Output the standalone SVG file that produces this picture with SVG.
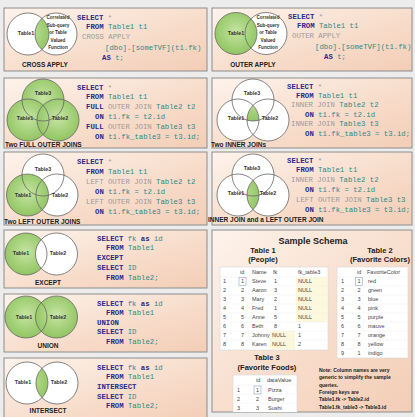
<svg xmlns="http://www.w3.org/2000/svg" width="415" height="417" viewBox="0 0 415 417">
<defs>
<linearGradient id="pg" x1="0" y1="0" x2="1" y2="1">
<stop offset="0" stop-color="#fdf3ec"/>
<stop offset="0.5" stop-color="#f8dfce"/>
<stop offset="1" stop-color="#f3cdb6"/>
</linearGradient>
<radialGradient id="gr" cx="0.5" cy="0.45" r="0.6">
<stop offset="0" stop-color="#c6e4a2"/>
<stop offset="1" stop-color="#8cc25c"/>
</radialGradient>
<clipPath id="c1B"><circle cx="56" cy="34" r="21"/></clipPath>
<clipPath id="c4L"><circle cx="238" cy="120" r="21"/></clipPath>
<clipPath id="c4R"><circle cx="268" cy="120" r="21"/></clipPath>
<clipPath id="c6R"><circle cx="268" cy="195" r="21"/></clipPath>
<clipPath id="c9R"><circle cx="57" cy="383" r="21"/></clipPath>
<clipPath id="sch"><rect x="212" y="230" width="200" height="182"/></clipPath>
</defs>
<style>
.panel{fill:url(#pg);stroke:#8c8c8c;stroke-width:1}
.c{fill:none;stroke:#666;stroke-width:.8}
.w{fill:#fff}
.gf{fill:url(#gr)}
.lbl{font-family:"Liberation Sans",Arial,sans-serif;font-weight:bold;font-size:6.5px;fill:#222}
.mid{text-anchor:middle}
.tl{font-family:"Liberation Sans",Arial,sans-serif;font-weight:bold;font-size:5.3px;fill:#333;text-anchor:middle}
.fn{font-family:"Liberation Sans",Arial,sans-serif;font-weight:bold;font-size:4.6px;fill:#333;text-anchor:middle}
.code{font-family:"Liberation Mono","DejaVu Sans Mono",monospace;font-size:7.3px;fill:#2e8b8b}
.kw{fill:#2a2a8c;font-weight:bold}
.op{fill:#9a9a9a}
.hd{font-family:"Liberation Sans",Arial,sans-serif;font-weight:bold;fill:#222;text-anchor:middle}
.grid{fill:#fff;stroke:#d6d6d6;stroke-width:.6}
.rl{stroke:#ececec;stroke-width:.5}
.cell{font-family:"Liberation Sans",Arial,sans-serif;font-size:5.5px;fill:#444}
.ny{fill:#fbf8dc}
.sel{fill:none;stroke:#8aa6cc;stroke-width:.6}
.note{font-family:"Liberation Sans",Arial,sans-serif;font-weight:bold;font-size:5px;fill:#222}
</style>
<rect x="0" y="0" width="415" height="417" fill="#ececec"/>

<g id="cross-apply">
<rect class="panel" x="4" y="8" width="203" height="63"/>
<circle class="w" cx="28" cy="34" r="21"/>
<circle class="w" cx="56" cy="34" r="21"/>
<circle class="gf" cx="28" cy="34" r="21" clip-path="url(#c1B)"/>
<circle class="c" cx="28" cy="34" r="21"/>
<circle class="c" cx="56" cy="34" r="21"/>
<text class="tl" x="26" y="35">Table1</text>
<text class="fn" x="58" y="19">Correlated</text>
<text class="fn" x="58" y="26.5">Sub-query</text>
<text class="fn" x="58" y="34">or Table</text>
<text class="fn" x="58" y="41.5">Valued</text>
<text class="fn" x="58" y="49">Function</text>
<text class="lbl mid" x="45" y="67">CROSS APPLY</text>
<text class="code"><tspan x="77" y="19.5" class="kw">SELECT</tspan><tspan class="op"> *</tspan>
<tspan x="86" y="29" class="kw">FROM</tspan><tspan> Table1 t1</tspan>
<tspan x="82" y="38.5" class="op">CROSS APPLY</tspan>
<tspan x="105" y="49.5">[dbo].[someTVF](t1.fk)</tspan>
<tspan x="102" y="59.5" class="kw">AS</tspan><tspan> t;</tspan></text>
</g>

<g id="outer-apply">
<rect class="panel" x="212" y="8" width="200" height="63"/>
<circle class="w" cx="266" cy="33.5" r="21"/>
<circle class="gf" cx="236" cy="33.5" r="21"/>
<circle class="c" cx="236" cy="33.5" r="21"/>
<circle class="c" cx="266" cy="33.5" r="21"/>
<text class="tl" x="236" y="35">Table1</text>
<text class="fn" x="268" y="19">Correlated</text>
<text class="fn" x="268" y="26.5">Sub-query</text>
<text class="fn" x="268" y="34">or Table</text>
<text class="fn" x="268" y="41.5">Valued</text>
<text class="fn" x="268" y="49">Function</text>
<text class="lbl mid" x="253" y="67">OUTER APPLY</text>
<text class="code"><tspan x="288" y="18.5" class="kw">SELECT</tspan><tspan class="op"> *</tspan>
<tspan x="297" y="28" class="kw">FROM</tspan><tspan> Table1 t1</tspan>
<tspan x="292" y="37.5" class="op">OUTER APPLY</tspan>
<tspan x="315" y="48.5">[dbo].[someTVF](t1.fk)</tspan>
<tspan x="324" y="58.5" class="kw">AS</tspan><tspan> t;</tspan></text>
</g>

<g id="two-full-outer-joins">
<rect class="panel" x="4" y="78" width="203" height="70"/>
<circle class="gf" cx="43" cy="100" r="21"/>
<circle class="gf" cx="28" cy="120" r="21"/>
<circle class="gf" cx="58" cy="120" r="21"/>
<circle class="c" cx="43" cy="100" r="21"/>
<circle class="c" cx="28" cy="120" r="21"/>
<circle class="c" cx="58" cy="120" r="21"/>
<text class="tl" x="43" y="95">Table3</text>
<text class="tl" x="25" y="120">Table1</text>
<text class="tl" x="60" y="120">Table2</text>
<text class="lbl" x="5" y="147">Two FULL OUTER JOINS</text>
<text class="code"><tspan x="77" y="89.5" class="kw">SELECT</tspan><tspan class="op"> *</tspan>
<tspan x="86" y="99.3" class="kw">FROM</tspan><tspan> Table1 t1</tspan>
<tspan x="86" y="109.1" class="kw">FULL</tspan><tspan class="op"> OUTER JOIN</tspan><tspan> Table2 t2</tspan>
<tspan x="95" y="118.9" class="kw">ON</tspan><tspan> t1.fk = t2.id</tspan>
<tspan x="86" y="128.7" class="kw">FULL</tspan><tspan class="op"> OUTER JOIN</tspan><tspan> Table3 t3</tspan>
<tspan x="95" y="138.5" class="kw">ON</tspan><tspan> t1.fk_table3 = t3.id;</tspan></text>
</g>

<g id="two-inner-joins">
<rect class="panel" x="212" y="78" width="200" height="70"/>
<circle class="w" cx="253" cy="100" r="21"/>
<circle class="w" cx="238" cy="120" r="21"/>
<circle class="w" cx="268" cy="120" r="21"/>
<g clip-path="url(#c4R)"><circle class="gf" cx="253" cy="100" r="21" clip-path="url(#c4L)"/></g>
<circle class="c" cx="253" cy="100" r="21"/>
<circle class="c" cx="238" cy="120" r="21"/>
<circle class="c" cx="268" cy="120" r="21"/>
<text class="tl" x="252" y="95">Table3</text>
<text class="tl" x="236" y="120">Table1</text>
<text class="tl" x="270" y="120">Table2</text>
<text class="lbl" x="211" y="147">Two INNER JOINs</text>
<text class="code"><tspan x="287" y="88.5" class="kw">SELECT</tspan><tspan class="op"> *</tspan>
<tspan x="296" y="97.9" class="kw">FROM</tspan><tspan> Table1 t1</tspan>
<tspan x="291" y="107.3" class="op">INNER JOIN</tspan><tspan> Table2 t2</tspan>
<tspan x="305" y="116.7" class="kw">ON</tspan><tspan> t1.fk = t2.id</tspan>
<tspan x="291" y="126.1" class="op">INNER JOIN</tspan><tspan> Table3 t3</tspan>
<tspan x="305" y="135.5" class="kw">ON</tspan><tspan> t1.fk_table3 = t3.id;</tspan></text>
</g>

<g id="two-left-outer-joins">
<rect class="panel" x="4" y="152" width="203" height="73"/>
<circle class="w" cx="43" cy="175" r="21"/>
<circle class="w" cx="57" cy="195" r="21"/>
<circle class="gf" cx="27.5" cy="195" r="21"/>
<circle class="c" cx="43" cy="175" r="21"/>
<circle class="c" cx="27.5" cy="195" r="21"/>
<circle class="c" cx="57" cy="195" r="21"/>
<text class="tl" x="43" y="171">Table3</text>
<text class="tl" x="23" y="197">Table1</text>
<text class="tl" x="60" y="197">Table2</text>
<text class="lbl" x="4" y="223.5">Two LEFT OUTER JOINS</text>
<text class="code"><tspan x="77" y="163.5" class="kw">SELECT</tspan><tspan class="op"> *</tspan>
<tspan x="86" y="173.5" class="kw">FROM</tspan><tspan> Table1 t1</tspan>
<tspan x="86" y="183.5" class="op">LEFT OUTER JOIN</tspan><tspan> Table2 t2</tspan>
<tspan x="95" y="193.5" class="kw">ON</tspan><tspan> t1.fk = t2.id</tspan>
<tspan x="86" y="203.5" class="op">LEFT OUTER JOIN</tspan><tspan> Table3 t3</tspan>
<tspan x="95" y="213.5" class="kw">ON</tspan><tspan> t1.fk_table3 = t3.id;</tspan></text>
</g>

<g id="inner-and-left-outer-join">
<rect class="panel" x="212" y="152" width="200" height="73"/>
<circle class="w" cx="253" cy="175" r="21"/>
<circle class="w" cx="238" cy="195" r="21"/>
<circle class="w" cx="268" cy="195" r="21"/>
<circle class="gf" cx="238" cy="195" r="21" clip-path="url(#c6R)"/>
<circle class="c" cx="253" cy="175" r="21"/>
<circle class="c" cx="238" cy="195" r="21"/>
<circle class="c" cx="268" cy="195" r="21"/>
<text class="tl" x="252" y="170">Table3</text>
<text class="tl" x="236" y="195">Table1</text>
<text class="tl" x="268" y="195">Table2</text>
<text class="lbl" x="208" y="222">INNER JOIN and a LEFT OUTER JOIN</text>
<text class="code"><tspan x="287" y="162.5" class="kw">SELECT</tspan><tspan class="op"> *</tspan>
<tspan x="296" y="172.3" class="kw">FROM</tspan><tspan> Table1 t1</tspan>
<tspan x="291" y="182.1" class="op">INNER JOIN</tspan><tspan> Table2 t2</tspan>
<tspan x="305" y="191.9" class="kw">ON</tspan><tspan> t1.fk = t2.id</tspan>
<tspan x="296" y="201.7" class="op">LEFT OUTER JOIN</tspan><tspan> Table3 t3</tspan>
<tspan x="305" y="211.5" class="kw">ON</tspan><tspan> t1.fk_table3 = t3.id;</tspan></text>
</g>

<g id="except">
<rect class="panel" x="4" y="230" width="203" height="58"/>
<circle class="gf" cx="26" cy="254" r="21"/>
<circle class="w" cx="56.5" cy="254" r="21"/>
<circle class="c" cx="26" cy="254" r="21"/>
<circle class="c" cx="56.5" cy="254" r="21"/>
<text class="tl" x="21" y="255">Table1</text>
<text class="tl" x="58" y="255">Table2</text>
<text class="lbl mid" x="48" y="285">EXCEPT</text>
<text class="code"><tspan x="97" y="240.5" class="kw">SELECT</tspan><tspan> fk </tspan><tspan class="kw">as</tspan><tspan> id</tspan>
<tspan x="106" y="250.3" class="kw">FROM</tspan><tspan> Table1</tspan>
<tspan x="97" y="260.1" class="kw">EXCEPT</tspan>
<tspan x="97" y="269.9" class="kw">SELECT</tspan><tspan> ID</tspan>
<tspan x="106" y="279.7" class="kw">FROM</tspan><tspan> Table2;</tspan></text>
</g>

<g id="union">
<rect class="panel" x="4" y="294" width="203" height="58"/>
<circle class="gf" cx="26" cy="317" r="21"/>
<circle class="gf" cx="56.5" cy="317" r="21"/>
<circle class="c" cx="26" cy="317" r="21"/>
<circle class="c" cx="56.5" cy="317" r="21"/>
<text class="tl" x="24" y="319">Table1</text>
<text class="tl" x="58" y="319">Table2</text>
<text class="lbl mid" x="48" y="348">UNION</text>
<text class="code"><tspan x="97" y="305.5" class="kw">SELECT</tspan><tspan> fk </tspan><tspan class="kw">as</tspan><tspan> id</tspan>
<tspan x="106" y="315" class="kw">FROM</tspan><tspan> Table1</tspan>
<tspan x="97" y="324.5" class="kw">UNION</tspan>
<tspan x="97" y="334" class="kw">SELECT</tspan><tspan> ID</tspan>
<tspan x="106" y="343.5" class="kw">FROM</tspan><tspan> Table2;</tspan></text>
</g>

<g id="intersect">
<rect class="panel" x="4" y="358" width="203" height="64"/>
<circle class="w" cx="27" cy="383" r="21"/>
<circle class="w" cx="57" cy="383" r="21"/>
<circle class="gf" cx="27" cy="383" r="21" clip-path="url(#c9R)"/>
<circle class="c" cx="27" cy="383" r="21"/>
<circle class="c" cx="57" cy="383" r="21"/>
<text class="tl" x="23" y="384">Table1</text>
<text class="tl" x="59" y="384">Table2</text>
<text class="lbl mid" x="48" y="413">INTERSECT</text>
<text class="code"><tspan x="97" y="369.5" class="kw">SELECT</tspan><tspan> fk </tspan><tspan class="kw">as</tspan><tspan> id</tspan>
<tspan x="106" y="379.2" class="kw">FROM</tspan><tspan> Table1</tspan>
<tspan x="97" y="388.9" class="kw">INTERSECT</tspan>
<tspan x="97" y="398.6" class="kw">SELECT</tspan><tspan> ID</tspan>
<tspan x="106" y="408.3" class="kw">FROM</tspan><tspan> Table2;</tspan></text>
</g>

<g id="sample-schema">
<rect class="panel" x="212" y="230" width="200" height="182"/>
<text class="hd" x="313" y="243.5" font-size="9">Sample Schema</text>
<text class="hd" x="263" y="252.5" font-size="7.5">Table 1</text>
<text class="hd" x="263" y="261.5" font-size="7.5">(People)</text>
<text class="hd" x="380" y="252.5" font-size="7.5">Table 2</text>
<text class="hd" x="380" y="261.5" font-size="7.5">(Favorite Colors)</text>

<g id="table1">
<rect class="grid" x="220" y="267" width="108" height="83"/>
<rect class="ny" x="296" y="277" width="31" height="45"/>
<rect class="ny" x="270" y="331" width="25" height="18"/>
<path class="rl" d="M220 277H328M220 286H328M220 295H328M220 304H328M220 313H328M220 322H328M220 331H328M220 340H328"/>
<rect class="sel" x="239" y="277.5" width="7" height="8"/>
<text class="cell"><tspan x="240" y="274">id</tspan><tspan x="252" y="274">Name</tspan><tspan x="273" y="274">fk</tspan><tspan x="298" y="274">fk_table3</tspan></text>
<text class="cell"><tspan x="223" y="283">1</tspan><tspan x="241" y="283">1</tspan><tspan x="252" y="283">Steve</tspan><tspan x="274" y="283">1</tspan><tspan x="298" y="283">NULL</tspan></text>
<text class="cell"><tspan x="223" y="292">2</tspan><tspan x="241" y="292">2</tspan><tspan x="252" y="292">Aaron</tspan><tspan x="274" y="292">3</tspan><tspan x="298" y="292">NULL</tspan></text>
<text class="cell"><tspan x="223" y="301">3</tspan><tspan x="241" y="301">3</tspan><tspan x="252" y="301">Mary</tspan><tspan x="274" y="301">2</tspan><tspan x="298" y="301">NULL</tspan></text>
<text class="cell"><tspan x="223" y="310">4</tspan><tspan x="241" y="310">4</tspan><tspan x="252" y="310">Fred</tspan><tspan x="274" y="310">1</tspan><tspan x="298" y="310">NULL</tspan></text>
<text class="cell"><tspan x="223" y="319">5</tspan><tspan x="241" y="319">5</tspan><tspan x="252" y="319">Anne</tspan><tspan x="274" y="319">5</tspan><tspan x="298" y="319">NULL</tspan></text>
<text class="cell"><tspan x="223" y="328">6</tspan><tspan x="241" y="328">6</tspan><tspan x="252" y="328">Beth</tspan><tspan x="274" y="328">8</tspan><tspan x="298" y="328">1</tspan></text>
<text class="cell"><tspan x="223" y="337">7</tspan><tspan x="241" y="337">7</tspan><tspan x="252" y="337">Johnny</tspan><tspan x="272" y="337">NULL</tspan><tspan x="298" y="337">1</tspan></text>
<text class="cell"><tspan x="223" y="346">8</tspan><tspan x="241" y="346">8</tspan><tspan x="252" y="346">Karen</tspan><tspan x="272" y="346">NULL</tspan><tspan x="298" y="346">2</tspan></text>
</g>

<g id="table2">
<rect class="grid" x="337" y="267" width="71" height="91"/>
<path class="rl" d="M337 277H408M337 286H408M337 295H408M337 304H408M337 313H408M337 322H408M337 331H408M337 340H408M337 349H408"/>
<rect class="sel" x="355.5" y="277.5" width="7" height="8"/>
<text class="cell"><tspan x="357" y="274">id</tspan><tspan x="367" y="274">FavoriteColor</tspan></text>
<text class="cell"><tspan x="341" y="283">1</tspan><tspan x="357.5" y="283">1</tspan><tspan x="368" y="283">red</tspan></text>
<text class="cell"><tspan x="341" y="292">2</tspan><tspan x="357.5" y="292">2</tspan><tspan x="368" y="292">green</tspan></text>
<text class="cell"><tspan x="341" y="301">3</tspan><tspan x="357.5" y="301">3</tspan><tspan x="368" y="301">blue</tspan></text>
<text class="cell"><tspan x="341" y="310">4</tspan><tspan x="357.5" y="310">4</tspan><tspan x="368" y="310">pink</tspan></text>
<text class="cell"><tspan x="341" y="319">5</tspan><tspan x="357.5" y="319">5</tspan><tspan x="368" y="319">purple</tspan></text>
<text class="cell"><tspan x="341" y="328">6</tspan><tspan x="357.5" y="328">6</tspan><tspan x="368" y="328">mauve</tspan></text>
<text class="cell"><tspan x="341" y="337">7</tspan><tspan x="357.5" y="337">7</tspan><tspan x="368" y="337">orange</tspan></text>
<text class="cell"><tspan x="341" y="346">8</tspan><tspan x="357.5" y="346">8</tspan><tspan x="368" y="346">yellow</tspan></text>
<text class="cell"><tspan x="341" y="355">9</tspan><tspan x="357.5" y="355">1</tspan><tspan x="368" y="355">indigo</tspan></text>
</g>

<text class="hd" x="267" y="359.5" font-size="7.5">Table 3</text>
<text class="hd" x="267" y="369.5" font-size="7.5">(Favorite Foods)</text>

<g id="table3" clip-path="url(#sch)">
<rect class="grid" x="233" y="375" width="64" height="40"/>
<path class="rl" d="M233 385H297M233 394H297M233 403H297"/>
<rect class="sel" x="254" y="386" width="7" height="8"/>
<text class="cell"><tspan x="256" y="382">id</tspan><tspan x="267" y="382">dataValue</tspan></text>
<text class="cell"><tspan x="237" y="392">1</tspan><tspan x="256" y="392">1</tspan><tspan x="268" y="392">Pizza</tspan></text>
<text class="cell"><tspan x="237" y="401">2</tspan><tspan x="256" y="401">2</tspan><tspan x="268" y="401">Burger</tspan></text>
<text class="cell"><tspan x="237" y="410">3</tspan><tspan x="256" y="410">3</tspan><tspan x="268" y="410">Sushi</tspan></text>
</g>

<text class="note"><tspan x="319" y="372">Note: Column names are very</tspan>
<tspan x="319" y="379.3">generic to simplify the sample</tspan>
<tspan x="319" y="386.6">queries.</tspan>
<tspan x="319" y="393.9">Foreign keys are</tspan>
<tspan x="319" y="401.2">Table1.fk -&gt; Table2.id</tspan>
<tspan x="319" y="408.5">Table1.fk_table3 -&gt; Table3.id</tspan></text>
</g>
</svg>
